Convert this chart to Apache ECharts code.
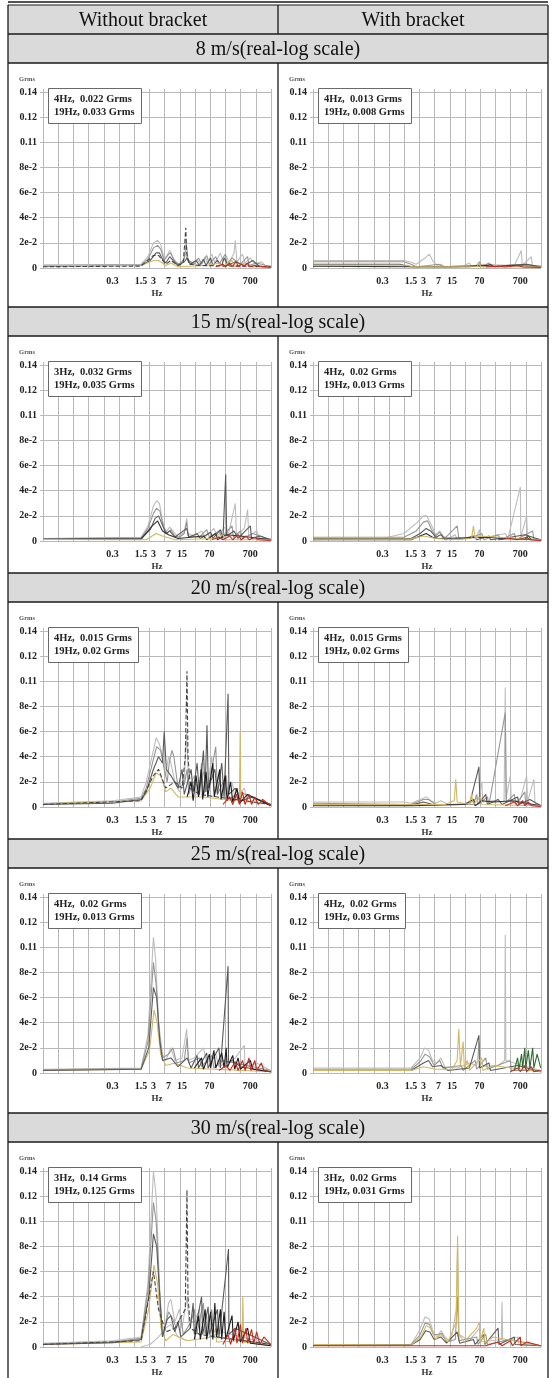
<!DOCTYPE html>
<html>
<head>
<meta charset="utf-8">
<script src="https://cdn.jsdelivr.net/npm/echarts@6/dist/echarts.min.js"></script>
<style>
  html, body { margin: 0; padding: 0; background: #fff; }
  #main { width: 555px; height: 1378px; }
</style>
</head>
<body>
<div id="main"></div>
<script>
(() => {
  // table texts
  const colHeads = ['Without bracket', 'With bracket'];
  const speedRows = ['8 m/s(real-log scale)', '15 m/s(real-log scale)', '20 m/s(real-log scale)', '25 m/s(real-log scale)', '30 m/s(real-log scale)'];
  const yTickLabels = ['0', '2e-2', '4e-2', '6e-2', '8e-2', '0.11', '0.12', '0.14'];
  const xTickValues = [0.3, 1.5, 3, 7, 15, 70, 700];
  const notes = [
    ['4Hz,  0.022 Grms', '19Hz, 0.033 Grms'], ['4Hz,  0.013 Grms', '19Hz, 0.008 Grms'],
    ['3Hz,  0.032 Grms', '19Hz, 0.035 Grms'], ['4Hz,  0.02 Grms', '19Hz, 0.013 Grms'],
    ['4Hz,  0.015 Grms', '19Hz, 0.02 Grms'], ['4Hz,  0.015 Grms', '19Hz, 0.02 Grms'],
    ['4Hz,  0.02 Grms', '19Hz, 0.013 Grms'], ['4Hz,  0.02 Grms', '19Hz, 0.03 Grms'],
    ['3Hz,  0.14 Grms', '19Hz, 0.125 Grms'], ['3Hz,  0.02 Grms', '19Hz, 0.031 Grms']
  ];

  // ---- 8 m/s, without bracket  [Hz, Grms]
  const w8A = [[0.006,0.0025],[1.5,0.003],[2.2,0.009],[3,0.02],[3.8,0.022],[4.5,0.019],[5.5,0.007],[6.5,0.01],[7.5,0.014],[9,0.008],[12,0.003],[16,0.006],[18,0.012],[20,0.007],[28,0.004],[35,0.007],[42,0.003],[55,0.009],[62,0.004],[80,0.011],[95,0.004],[130,0.012],[150,0.005],[180,0.01],[210,0.004],[280,0.012],[300,0.022],[330,0.005],[450,0.011],[520,0.004],[700,0.008],[900,0.003],[1300,0.005],[1600,0.002],[2200,0.002]];
  const w8B = [[0.006,0.0018],[1.5,0.0025],[2.2,0.007],[3,0.016],[3.8,0.018],[4.5,0.015],[5.5,0.006],[7,0.011],[8,0.012],[10,0.005],[13,0.003],[17,0.007],[19,0.02],[21,0.006],[30,0.003],[38,0.008],[45,0.003],[60,0.01],[70,0.003],[100,0.009],[120,0.003],[170,0.011],[190,0.003],[250,0.008],[400,0.003],[600,0.009],[650,0.002],[1000,0.004],[2200,0.001]];
  const w8C = [[0.006,0.0015],[1.5,0.002],[2.5,0.006],[3.5,0.012],[4.2,0.012],[5,0.007],[6,0.004],[7.5,0.009],[9,0.006],[12,0.002],[17,0.005],[20,0.008],[24,0.003],[33,0.006],[40,0.002],[50,0.007],[58,0.002],[75,0.008],[85,0.002],[110,0.006],[140,0.002],[160,0.008],[200,0.002],[300,0.005],[500,0.002],[800,0.006],[1200,0.001],[2200,0.001]];
  const w8D = [[0.006,0.001],[1.5,0.0015],[3,0.01],[4,0.01],[6,0.003],[8,0.006],[12,0.002],[16,0.004],[17.5,0.02],[18.5,0.032],[19.5,0.012],[22,0.003],[40,0.002],[2200,0.001]];
  const w8E = [[0.006,0.002],[1.5,0.002],[3,0.006],[4,0.006],[6,0.002],[8,0.004],[12,0.001],[60,0.002],[120,0.004],[150,0.001],[250,0.006],[280,0.001],[500,0.004],[700,0.001],[2200,0.001]];
  const w8F = [[100,0.001],[150,0.003],[170,0.001],[220,0.004],[250,0.001],[320,0.005],[350,0.001],[420,0.003],[480,0.001],[600,0.004],[650,0.001],[900,0.002],[2200,0.0005]];

  // ---- 8 m/s, with bracket
  const b8A = [[0.006,0.006],[1,0.006],[1.4,0.005],[2,0.003],[3.3,0.008],[4.2,0.011],[5.2,0.005],[6.5,0.002],[8,0.003],[10,0.001],[30,0.002],[40,0.004],[45,0.001],[70,0.003],[500,0.002],[740,0.014],[780,0.002],[1300,0.009],[1380,0.002],[2200,0.002]];
  const b8B = [[0.006,0.005],[1,0.005],[1.5,0.003],[2,0.001],[4,0.002],[7,0.003],[9,0.001],[60,0.002],[70,0.005],[80,0.001],[120,0.004],[140,0.001],[300,0.002],[900,0.003],[2200,0.001]];
  const b8C = [[0.006,0.003],[0.8,0.003],[1.5,0.001],[40,0.001],[60,0.002],[90,0.001],[130,0.003],[160,0.001],[300,0.002],[1000,0.003],[2200,0.001]];
  const b8D = [[0.006,0.0015],[1.5,0.001],[20,0.001],[100,0.002],[200,0.001],[500,0.002],[2200,0.001]];
  const b8E = [[0.006,0.0022],[1.2,0.0022],[1.6,0.001],[60,0.001],[70,0.004],[75,0.001],[2200,0.001]];
  const b8F = [[100,0.0008],[200,0.0015],[300,0.0008],[600,0.002],[800,0.0008],[2200,0.0005]];

  // ---- 15 m/s, without bracket
  const w15A = [[0.006,0.002],[1.5,0.003],[2.2,0.012],[3,0.028],[3.6,0.032],[4.2,0.03],[5,0.016],[6,0.007],[7.5,0.011],[9,0.008],[12,0.003],[17,0.007],[19.5,0.018],[21,0.006],[30,0.004],[45,0.008],[55,0.003],[90,0.01],[110,0.004],[180,0.012],[200,0.004],[300,0.03],[320,0.004],[500,0.01],[600,0.025],[640,0.004],[1000,0.008],[1200,0.002],[2200,0.002]];
  const w15B = [[0.006,0.0018],[1.5,0.0025],[2.2,0.01],[3,0.022],[3.6,0.026],[4.3,0.024],[5.2,0.012],[6.5,0.006],[8,0.009],[10,0.004],[13,0.003],[17,0.006],[19.5,0.015],[21,0.004],[40,0.003],[60,0.009],[70,0.003],[120,0.008],[140,0.003],[250,0.012],[270,0.003],[400,0.008],[450,0.002],[800,0.006],[2200,0.001]];
  const w15C = [[0.006,0.0015],[1.5,0.002],[2.5,0.009],[3.3,0.018],[4,0.02],[4.8,0.014],[6,0.006],[7.5,0.008],[10,0.003],[19.5,0.01],[22,0.003],[35,0.006],[42,0.002],[75,0.007],[85,0.002],[130,0.009],[150,0.002],[175,0.053],[185,0.004],[280,0.008],[350,0.002],[700,0.012],[750,0.002],[1200,0.004],[2200,0.001]];
  const w15D = [[0.006,0.0012],[1.5,0.0015],[2.8,0.012],[3.8,0.016],[5,0.008],[7,0.005],[12,0.002],[50,0.004],[60,0.001],[100,0.006],[110,0.001],[180,0.005],[400,0.004],[2200,0.001]];
  const w15E = [[0.006,0.0012],[2,0.001],[3.5,0.006],[5,0.004],[10,0.001],[90,0.002],[150,0.005],[170,0.001],[2200,0.001]];
  const w15F = [[80,0.001],[120,0.003],[150,0.001],[220,0.004],[260,0.001],[350,0.005],[420,0.001],[550,0.004],[650,0.001],[900,0.003],[1100,0.001],[2200,0.0005]];

  // ---- 15 m/s, with bracket
  const b15A = [[0.006,0.001],[0.3,0.002],[1,0.006],[2,0.014],[3,0.02],[3.6,0.02],[4.5,0.014],[6,0.005],[7.5,0.008],[9,0.004],[12,0.002],[18,0.005],[20,0.001],[60,0.003],[70,0.009],[75,0.002],[150,0.004],[300,0.006],[350,0.002],[700,0.043],[720,0.003],[1000,0.02],[1050,0.002],[2200,0.001]];
  const b15B = [[0.006,0.003],[1,0.003],[2,0.008],[3,0.015],[3.8,0.016],[4.6,0.01],[6,0.004],[7.5,0.007],[10,0.002],[20,0.012],[22,0.002],[40,0.002],[80,0.006],[90,0.001],[200,0.005],[230,0.001],[500,0.006],[550,0.001],[1400,0.008],[1500,0.001],[2200,0.001]];
  const b15C = [[0.006,0.002],[1.5,0.002],[2.5,0.006],[3.5,0.01],[4.5,0.008],[6,0.003],[8,0.005],[10,0.001],[30,0.002],[50,0.004],[60,0.001],[120,0.004],[130,0.001],[400,0.003],[900,0.005],[2200,0.001]];
  const b15D = [[0.006,0.001],[1.5,0.001],[3.5,0.006],[5,0.003],[7,0.002],[100,0.003],[300,0.002],[2200,0.0008]];
  const b15E = [[0.006,0.0015],[1.5,0.0015],[3,0.004],[6,0.002],[15,0.001],[45,0.002],[50,0.012],[55,0.002],[70,0.004],[2200,0.001]];
  const b15F = [[200,0.001],[400,0.002],[600,0.001],[1000,0.003],[1200,0.001],[2200,0.0005]];
  const b15G = [[900,0.001],[1100,0.004],[1300,0.001]];

  // ---- 20 m/s, without bracket
  const w20A = [[0.006,0.003],[0.3,0.005],[1.5,0.008],[2,0.02],[3,0.045],[3.5,0.055],[4.2,0.05],[5,0.04],[6,0.025],[7,0.04],[8,0.035],[10,0.02],[13,0.012],[17,0.02],[19.5,0.06],[20.5,0.04],[22,0.015],[30,0.025],[35,0.01],[50,0.028],[60,0.012],[80,0.04],[90,0.012],[120,0.025],[140,0.008],[250,0.02],[300,0.006],[500,0.015],[600,0.004],[1000,0.006],[2200,0.002]];
  const w20B = [[0.006,0.0025],[0.3,0.004],[1.5,0.007],[2,0.015],[3,0.038],[3.6,0.048],[4.5,0.045],[5.5,0.03],[6.5,0.02],[7.3,0.035],[8.5,0.045],[9.5,0.04],[12,0.015],[17,0.018],[20,0.03],[22,0.01],[28,0.02],[40,0.015],[45,0.035],[50,0.01],[70,0.02],[100,0.048],[110,0.01],[180,0.025],[200,0.006],[400,0.012],[700,0.008],[2200,0.002]];
  const w20C = [[0.006,0.002],[0.3,0.003],[1.5,0.006],[2,0.012],[3,0.03],[4,0.04],[5,0.035],[5.5,0.06],[6.2,0.03],[8,0.025],[12,0.015],[15,0.03],[17,0.01],[25,0.03],[28,0.012],[35,0.035],[40,0.01],[50,0.045],[55,0.012],[61,0.065],[66,0.015],[95,0.03],[110,0.01],[140,0.035],[160,0.008],[200,0.09],[210,0.01],[300,0.015],[400,0.005],[800,0.008],[2200,0.002]];
  const w20D = [[0.006,0.002],[1.5,0.005],[3,0.025],[4,0.03],[6,0.015],[10,0.02],[15,0.015],[18,0.04],[19.8,0.108],[21,0.04],[24,0.015],[40,0.01],[2200,0.002]];
  const w20E = [[0.006,0.0025],[1.5,0.005],[2.5,0.015],[3.5,0.027],[4.5,0.025],[6,0.012],[8,0.015],[12,0.008],[50,0.008],[300,0.005],[380,0.008],[395,0.06],[410,0.008],[700,0.004],[2200,0.002]];
  const w20F = [[20,0.008],[25,0.02],[28,0.005],[33,0.025],[38,0.008],[44,0.03],[48,0.006],[58,0.028],[64,0.008],[85,0.035],[92,0.008],[125,0.03],[135,0.006],[170,0.025],[190,0.005],[230,0.02],[260,0.004],[330,0.015],[380,0.003],[600,0.01],[2200,0.001]];
  const w20G = [[150,0.002],[220,0.008],[260,0.002],[320,0.01],[380,0.002],[450,0.012],[520,0.002],[650,0.01],[750,0.002],[900,0.008],[1100,0.002],[1400,0.006],[2200,0.001]];

  // ---- 20 m/s, with bracket
  const b20A = [[0.006,0.004],[1,0.004],[1.5,0.003],[2.5,0.006],[3.5,0.008],[4.5,0.005],[6,0.003],[8,0.005],[12,0.002],[40,0.003],[70,0.008],[80,0.02],[85,0.004],[150,0.005],[280,0.004],[300,0.095],[310,0.006],[400,0.025],[420,0.004],[700,0.006],[1000,0.025],[1050,0.004],[1500,0.022],[1600,0.003],[2200,0.002]];
  const b20B = [[0.006,0.003],[1.5,0.002],[3,0.006],[4,0.006],[6,0.002],[50,0.002],[60,0.01],[65,0.002],[110,0.008],[120,0.002],[300,0.075],[320,0.004],[500,0.01],[550,0.002],[900,0.012],[950,0.002],[2200,0.001]];
  const b20C = [[0.006,0.002],[1.5,0.0015],[3,0.004],[5,0.002],[40,0.002],[68,0.032],[72,0.004],[100,0.01],[110,0.002],[200,0.006],[250,0.002],[600,0.008],[650,0.002],[1200,0.006],[2200,0.001]];
  const b20D = [[0.006,0.001],[1.5,0.001],[30,0.002],[50,0.006],[55,0.001],[80,0.005],[160,0.004],[450,0.005],[2200,0.001]];
  const b20E = [[0.006,0.002],[1.5,0.002],[10,0.002],[17,0.005],[18.5,0.022],[20,0.004],[40,0.002],[45,0.01],[50,0.002],[75,0.008],[80,0.002],[2200,0.001]];
  const b20F = [[300,0.001],[500,0.004],[600,0.001],[800,0.005],[900,0.001],[1100,0.004],[1300,0.001],[2200,0.0005]];

  // ---- 25 m/s, without bracket
  const w25A = [[0.006,0.003],[1.5,0.004],[2.2,0.03],[3,0.108],[3.4,0.09],[4,0.04],[5,0.015],[6,0.01],[8,0.02],[10,0.01],[15,0.012],[19.5,0.035],[21,0.01],[30,0.012],[50,0.02],[60,0.008],[100,0.015],[120,0.005],[300,0.012],[500,0.022],[520,0.004],[1000,0.008],[2200,0.002]];
  const w25B = [[0.006,0.0025],[1.5,0.0035],[2.2,0.025],[3,0.088],[3.5,0.07],[4.2,0.03],[5,0.012],[7,0.015],[9,0.02],[11,0.008],[17,0.01],[20,0.028],[22,0.008],[40,0.012],[45,0.005],[80,0.014],[90,0.004],[150,0.01],[2200,0.002]];
  const w25C = [[0.006,0.002],[1.5,0.003],[2.3,0.02],[3,0.068],[3.6,0.06],[4.3,0.025],[5,0.01],[8,0.012],[12,0.005],[20,0.012],[25,0.004],[35,0.014],[38,0.004],[60,0.016],[65,0.004],[120,0.02],[130,0.004],[200,0.085],[205,0.008],[250,0.01],[400,0.005],[2200,0.001]];
  const w25D = [[0.006,0.002],[1.5,0.003],[2.4,0.018],[3.1,0.05],[3.7,0.04],[4.5,0.015],[6,0.006],[10,0.008],[20,0.004],[2200,0.001]];
  const w25E = [[30,0.004],[45,0.012],[50,0.003],[70,0.015],[75,0.004],[90,0.018],[100,0.004],[140,0.016],[160,0.004],[180,0.02],[190,0.004],[260,0.014],[290,0.003],[350,0.012],[400,0.003],[700,0.01],[800,0.003],[2200,0.001]];
  const w25F = [[120,0.002],[180,0.006],[220,0.002],[300,0.009],[350,0.002],[450,0.01],[520,0.002],[650,0.012],[720,0.002],[900,0.01],[1000,0.002],[1300,0.008],[1500,0.002],[2200,0.001]];

  // ---- 25 m/s, with bracket
  const b25A = [[0.006,0.004],[1.5,0.004],[2.5,0.012],[3.2,0.02],[4,0.018],[5,0.01],[6.5,0.008],[8,0.012],[10,0.005],[20,0.004],[40,0.008],[60,0.006],[70,0.025],[72,0.005],[200,0.006],[290,0.01],[300,0.11],[310,0.01],[500,0.008],[2200,0.002]];
  const b25B = [[0.006,0.003],[1.5,0.003],[2.5,0.009],[3.3,0.015],[4.2,0.013],[5.5,0.006],[7.5,0.01],[9,0.004],[25,0.006],[28,0.002],[55,0.01],[60,0.003],[100,0.012],[110,0.003],[400,0.01],[420,0.002],[2200,0.002]];
  const b25C = [[0.006,0.002],[1.5,0.002],[3,0.008],[4,0.01],[5,0.005],[8,0.006],[12,0.002],[40,0.004],[68,0.03],[70,0.004],[120,0.008],[130,0.002],[600,0.006],[2200,0.001]];
  const b25D = [[0.006,0.002],[1.5,0.002],[3,0.005],[6,0.003],[15,0.003],[20,0.01],[22,0.035],[24,0.005],[28,0.025],[30,0.004],[35,0.01],[40,0.002],[80,0.012],[85,0.002],[150,0.006],[2200,0.001]];
  const b25E = [[500,0.002],[600,0.012],[650,0.003],[750,0.015],[800,0.004],[900,0.02],[950,0.004],[1100,0.018],[1200,0.004],[1400,0.02],[1500,0.004],[1800,0.015],[2200,0.004]];
  const b25F = [[400,0.001],[600,0.004],[700,0.001],[900,0.006],[1000,0.001],[1300,0.005],[1500,0.001],[2200,0.002]];

  // ---- 30 m/s, without bracket
  const w30A = [[0.006,0.003],[0.3,0.005],[1.5,0.008],[2.2,0.05],[3,0.14],[3.5,0.12],[4.2,0.05],[5,0.01],[6,0.02],[7,0.035],[8,0.038],[10,0.02],[13,0.03],[15,0.015],[20,0.04],[22,0.02],[30,0.02],[40,0.03],[45,0.01],[60,0.025],[70,0.008],[150,0.012],[2200,0.002]];
  const w30B = [[0.006,0.0025],[0.3,0.004],[1.5,0.007],[2.2,0.045],[3,0.115],[3.5,0.1],[4.3,0.04],[5,0.008],[6,0.018],[7,0.028],[9,0.022],[11,0.015],[14,0.025],[16,0.01],[25,0.02],[30,0.03],[34,0.01],[50,0.035],[55,0.01],[80,0.03],[90,0.008],[2200,0.002]];
  const w30C = [[0.006,0.002],[0.3,0.0035],[1.5,0.006],[2.3,0.04],[3,0.09],[3.6,0.08],[4.4,0.035],[5,0.008],[6.5,0.022],[8,0.025],[10,0.012],[12,0.02],[14,0.008],[24,0.015],[28,0.035],[30,0.01],[45,0.04],[48,0.01],[65,0.032],[70,0.01],[110,0.03],[120,0.008],[205,0.078],[210,0.01],[300,0.015],[2200,0.002]];
  const w30D = [[0.006,0.002],[1.5,0.005],[3,0.06],[4,0.03],[6,0.012],[10,0.015],[18,0.03],[19.8,0.125],[21,0.04],[24,0.015],[40,0.01],[2200,0.002]];
  const w30E = [[0.006,0.002],[1.5,0.004],[2.3,0.03],[3.1,0.065],[3.8,0.05],[4.6,0.015],[6,0.005],[9,0.01],[20,0.005],[80,0.008],[100,0.015],[105,0.004],[440,0.005],[460,0.04],[480,0.004],[2200,0.001]];
  const w30F = [[1.5,0.0002],[2.5,0.002],[4,0.008],[6,0.015],[8,0.018],[12,0.008],[20,0.005]];
  const w30G = [[30,0.006],[38,0.025],[42,0.006],[55,0.03],[60,0.006],[75,0.028],[85,0.006],[95,0.035],[105,0.008],[130,0.03],[140,0.006],[160,0.028],[175,0.006],[250,0.025],[270,0.005],[350,0.02],[400,0.004],[600,0.015],[700,0.003],[2200,0.001]];
  const w30H = [[150,0.002],[200,0.01],[230,0.002],[300,0.015],[330,0.003],[400,0.018],[450,0.003],[550,0.015],[600,0.003],[750,0.014],[850,0.003],[1000,0.012],[1200,0.002],[1500,0.008],[2200,0.002]];

  // ---- 30 m/s, with bracket
  const b30A = [[0.006,0.002],[1.5,0.002],[2.3,0.012],[3.3,0.024],[4.2,0.022],[5.2,0.012],[6.5,0.008],[8,0.013],[10,0.008],[14,0.004],[19,0.03],[20.5,0.08],[22,0.01],[40,0.005],[70,0.015],[75,0.004],[240,0.006],[250,0.036],[260,0.005],[600,0.008],[650,0.002],[2200,0.001]];
  const b30B = [[0.006,0.0018],[1.5,0.0018],[2.4,0.009],[3.3,0.019],[4.2,0.018],[5.2,0.01],[7,0.01],[8.5,0.011],[11,0.004],[18,0.006],[20.5,0.04],[22,0.005],[60,0.008],[65,0.002],[100,0.01],[110,0.002],[400,0.006],[2200,0.001]];
  const b30C = [[0.006,0.0015],[1.5,0.0015],[2.5,0.006],[3.4,0.013],[4.3,0.012],[5.5,0.006],[8,0.008],[11,0.003],[20,0.012],[23,0.003],[50,0.006],[55,0.002],[90,0.01],[95,0.002],[200,0.015],[210,0.002],[500,0.008],[520,0.002],[2200,0.001]];
  const b30D = [[0.006,0.002],[1.5,0.0015],[2.6,0.008],[3.5,0.017],[4.5,0.015],[6,0.006],[8,0.01],[12,0.004],[19,0.02],[20.5,0.088],[22,0.01],[30,0.004],[60,0.015],[70,0.02],[72,0.004],[90,0.015],[95,0.003],[150,0.008],[2200,0.001]];
  const b30E = [[0.006,0.001],[100,0.001],[200,0.004],[250,0.001],[400,0.005],[450,0.001],[700,0.008],[720,0.001],[1000,0.004],[2200,0.001]];

  const styles = {
    light: { color: '#bdbdbd' },
    mid: { color: '#969696' },
    dark: { color: '#5a5a5a' },
    darker: { color: '#333333' },
    black: { color: '#1c1c1c' },
    dash: { color: '#454545', type: 'dashed' },
    yellow: { color: '#d2b862' },
    red: { color: '#c42a1c' },
    green: { color: '#2f6b30' }
  };

  // panel order: row by row, left (without) then right (with)
  const panels = [
    [[w8A,'light'],[w8B,'mid'],[w8C,'dark'],[w8E,'yellow'],[w8D,'dash'],[w8F,'red']],
    [[b8A,'light'],[b8B,'mid'],[b8C,'dark'],[b8D,'darker'],[b8E,'yellow'],[b8F,'red']],
    [[w15A,'light'],[w15B,'mid'],[w15C,'dark'],[w15D,'darker'],[w15E,'yellow'],[w15F,'red']],
    [[b15A,'light'],[b15B,'mid'],[b15C,'dark'],[b15D,'darker'],[b15E,'yellow'],[b15F,'red'],[b15G,'green']],
    [[w20A,'light'],[w20B,'mid'],[w20E,'yellow'],[w20C,'dark'],[w20D,'dash'],[w20F,'black'],[w20G,'red']],
    [[b20A,'light'],[b20B,'mid'],[b20C,'dark'],[b20D,'darker'],[b20E,'yellow'],[b20F,'red']],
    [[w25A,'light'],[w25B,'mid'],[w25D,'yellow'],[w25C,'dark'],[w25E,'black'],[w25F,'red']],
    [[b25A,'light'],[b25B,'mid'],[b25C,'dark'],[b25D,'yellow'],[b25E,'green'],[b25F,'red']],
    [[w30F,'light'],[w30A,'light'],[w30B,'mid'],[w30E,'yellow'],[w30C,'dark'],[w30D,'dash'],[w30G,'black'],[w30H,'red']],
    [[b30A,'light'],[b30B,'mid'],[b30C,'dark'],[b30D,'yellow'],[b30E,'red']]
  ];

  // layout of the table
  const TABLE_L = 8, TABLE_R = 548, MID_X = 278, PAGE_H = 1378;
  const HEAD_TOP = 5, ROW_H = 29;
  const rowTops = [34, 307, 573, 839, 1113];
  const colX = [TABLE_L, MID_X];
  const SERIF = "'Liberation Serif', 'DejaVu Serif', serif";
  const BORDER = '#1a1a1a';
  const GRID_C = '#b9b9b9';

  const grids = [], xAxes = [], yAxes = [], series = [], titles = [], graphics = [];

  panels.forEach((lines, i) => {
    const row = Math.floor(i / 2), col = i % 2;
    const cellTop = rowTops[row] + ROW_H;
    const left = colX[col] + 35;
    const top = cellTop + 29;
    grids.push({ left: left, top: top, width: 228, height: 176, containLabel: false });

    xAxes.push({
      type: 'log', gridIndex: i, min: 0.006, max: 2240, logBase: 10,
      axisLine: { show: false }, axisTick: { show: false }, splitLine: { show: false },
      axisLabel: {
        customValues: xTickValues, margin: 8, fontSize: 10, fontWeight: 'bold',
        fontFamily: SERIF, color: '#222', formatter: v => String(v)
      },
      name: 'Hz', nameLocation: 'middle', nameGap: 21,
      nameTextStyle: { fontSize: 9, fontWeight: 'bold', fontFamily: SERIF, color: '#333' }
    });
    // evenly spaced vertical grid of the original plots (drawn at the top edge)
    xAxes.push({
      type: 'value', gridIndex: i, min: 0, max: 15, interval: 1, position: 'top',
      axisLine: { show: false }, axisLabel: { show: false },
      axisTick: { show: true, length: 3, lineStyle: { color: GRID_C } },
      splitLine: { show: true, lineStyle: { color: GRID_C, width: 1 } }
    });
    yAxes.push({
      type: 'value', gridIndex: i, min: 0, max: 0.14, interval: 0.02,
      axisLine: { show: false },
      axisTick: { show: true, length: 3, lineStyle: { color: GRID_C } },
      splitLine: { show: true, lineStyle: { color: GRID_C, width: 1 } },
      axisLabel: {
        margin: 6, fontSize: 10, fontWeight: 'bold', fontFamily: SERIF, color: '#222',
        formatter: v => yTickLabels[Math.round(v / 0.02)]
      },
      name: 'Grms', nameLocation: 'end', nameGap: 9,
      nameTextStyle: { fontSize: 6.5, fontWeight: 'bold', fontFamily: SERIF, color: '#555', align: 'right', padding: [0, 8, 0, 0] }
    });

    lines.forEach(([data, key], k) => {
      const st = styles[key];
      series.push({
        type: 'line', xAxisIndex: 2 * i, yAxisIndex: i, data: data,
        showSymbol: false, symbol: 'none', silent: true, animation: false,
        z: 2 + k,
        lineStyle: { color: st.color, width: 1.1, type: st.type || 'solid' }
      });
    });

    titles.push({
      left: left + 5, top: top - 4,
      text: notes[i].join('\n'),
      padding: [5, 7, 5, 6],
      backgroundColor: '#fff', borderColor: '#6a6a6a', borderWidth: 1,
      textStyle: { fontSize: 10.5, fontWeight: 'bold', fontFamily: SERIF, color: '#222', lineHeight: 13 }
    });
  });

  // gray rows
  graphics.push({ type: 'rect', shape: { x: TABLE_L, y: HEAD_TOP, width: TABLE_R - TABLE_L, height: rowTops[0] - HEAD_TOP }, style: { fill: '#dadada' }, z: 0 });
  rowTops.forEach(y => {
    graphics.push({ type: 'rect', shape: { x: TABLE_L, y: y, width: TABLE_R - TABLE_L, height: ROW_H }, style: { fill: '#dadada' }, z: 0 });
  });
  const hLine = (y, w) => ({ type: 'line', shape: { x1: TABLE_L, y1: y, x2: TABLE_R, y2: y }, style: { stroke: BORDER, lineWidth: w || 1.3 }, z: 10 });
  const vLine = (x, y1, y2) => ({ type: 'line', shape: { x1: x, y1: y1, x2: x, y2: y2 }, style: { stroke: BORDER, lineWidth: 1.3 }, z: 10 });
  graphics.push(hLine(2, 1.6));
  graphics.push(hLine(HEAD_TOP, 1));
  rowTops.forEach(y => { graphics.push(hLine(y)); graphics.push(hLine(y + ROW_H)); });
  graphics.push(vLine(TABLE_L, HEAD_TOP, PAGE_H));
  graphics.push(vLine(TABLE_R, HEAD_TOP, PAGE_H));
  graphics.push(vLine(MID_X, HEAD_TOP, rowTops[0]));
  rowTops.forEach((y, r) => {
    const end = r + 1 < rowTops.length ? rowTops[r + 1] : PAGE_H;
    graphics.push(vLine(MID_X, y + ROW_H, end));
  });
  // header + row texts
  colHeads.forEach((t, c) => {
    const cx = c === 0 ? (TABLE_L + MID_X) / 2 : (MID_X + TABLE_R) / 2;
    graphics.push({ type: 'text', x: cx, y: (HEAD_TOP + rowTops[0]) / 2 + 1, z: 11,
      style: { text: t, fill: '#111', font: "20px " + SERIF, textAlign: 'center', textVerticalAlign: 'middle' } });
  });
  speedRows.forEach((t, r) => {
    graphics.push({ type: 'text', x: (TABLE_L + TABLE_R) / 2, y: rowTops[r] + ROW_H / 2 + 1, z: 11,
      style: { text: t, fill: '#111', font: "20px " + SERIF, textAlign: 'center', textVerticalAlign: 'middle' } });
  });

  const myChart = echarts.init(document.getElementById('main'), null, { renderer: 'canvas' });
  myChart.setOption({
    animation: false,
    backgroundColor: '#fff',
    title: titles,
    grid: grids,
    xAxis: xAxes,
    yAxis: yAxes,
    series: series,
    graphic: { elements: graphics }
  });
})();
</script>
</body>
</html>
